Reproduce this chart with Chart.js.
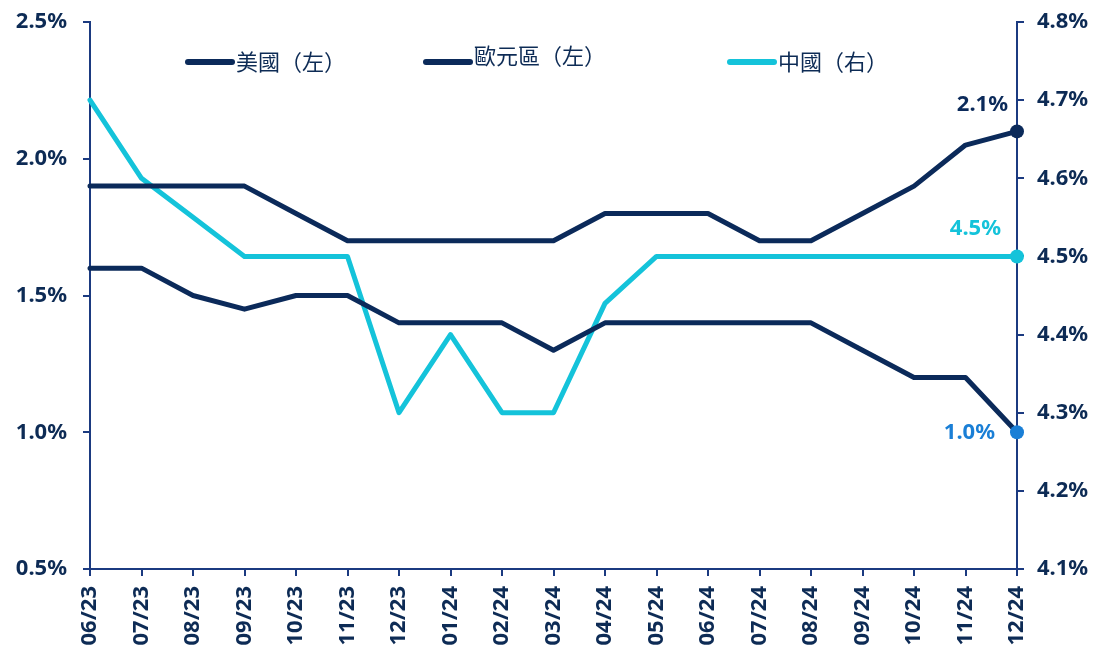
<!DOCTYPE html>
<html>
<head>
<meta charset="utf-8">
<script src="https://cdn.jsdelivr.net/npm/chart.js@4"></script>
<style>
  html, body { margin: 0; padding: 0; background: #fff; }
  #wrap { position: relative; width: 1099px; height: 649px; }
  .leg { position: absolute; top: 44px; display: flex; align-items: center;
         font-family: "Noto Sans CJK TC", "Noto Sans", sans-serif; font-size: 22px; color: #0d2b55; white-space: nowrap; }
  .leg span.sw { display: inline-block; width: 50px; height: 6px; border-radius: 3px; margin-right: 1px; margin-top: 4px; }
</style>
</head>
<body>
<div id="wrap">
  <canvas id="chart" width="1099" height="649"></canvas>
  <div class="leg" style="left:185px"><span class="sw" style="background:#0b2a5a"></span>美國（左）</div>
  <div class="leg" style="left:423px;top:38px"><span class="sw" style="background:#0b2a5a;margin-top:16px"></span>歐元區（左）</div>
  <div class="leg" style="left:727px"><span class="sw" style="background:#14c3da"></span>中國（右）</div>
</div>
<script>
  // months
  var labels = ['06/23','07/23','08/23','09/23','10/23','11/23','12/23','01/24','02/24','03/24',
                '04/24','05/24','06/24','07/24','08/24','09/24','10/24','11/24','12/24'];

  // left axis (%)
  var usData    = [1.9,1.9,1.9,1.9,1.8,1.7,1.7,1.7,1.7,1.7,1.8,1.8,1.8,1.7,1.7,1.8,1.9,2.05,2.1];
  var euroData  = [1.6,1.6,1.5,1.45,1.5,1.5,1.4,1.4,1.4,1.3,1.4,1.4,1.4,1.4,1.4,1.3,1.2,1.2,1.0];
  // right axis (%)
  var chinaData = [4.7,4.6,4.55,4.5,4.5,4.5,4.3,4.4,4.3,4.3,4.44,4.5,4.5,4.5,4.5,4.5,4.5,4.5,4.5];

  var navy = '#0b2a5a';
  var cyan = '#14c3da';
  var blue = '#1a7fd6';
  var axisCol = '#1b3a80';
  var textCol = '#0d2b55';

  function lastOnly(arr, r){
    return arr.map(function(v,i){ return i == arr.length-1 ? r : 0; });
  }

  var tickFont = { family: '"Noto Sans", sans-serif', size: 22, weight: 'bold' };

  // end-of-line value labels
  var endLabels = {
    id: 'endLabels',
    afterDatasetsDraw: function(chart){
      var ctx = chart.ctx;
      chart.data.datasets.forEach(function(ds, i){
        if(!ds.endLabel) return;
        var meta = chart.getDatasetMeta(i);
        var pt = meta.data[meta.data.length-1];
        ctx.save();
        ctx.font = 'bold 22px "Noto Sans", sans-serif';
        ctx.fillStyle = ds.endLabel.color;
        ctx.textAlign = 'right';
        ctx.textBaseline = 'middle';
        ctx.fillText(ds.endLabel.text, pt.x + ds.endLabel.dx, pt.y + ds.endLabel.dy);
        ctx.restore();
      });
    }
  };

  var ctx = document.getElementById('chart').getContext('2d');
  var chart = new Chart(ctx, {
    type: 'line',
    data: {
      labels: labels,
      datasets: [
        {
          label: '美國（左）', data: usData, yAxisID: 'y',
          borderColor: navy, backgroundColor: navy, borderWidth: 5,
          pointRadius: lastOnly(usData, 7), pointBackgroundColor: navy, pointBorderWidth: 0,
          endLabel: { text: '2.1%', color: navy, dx: -9, dy: -27 }
        },
        {
          label: '歐元區（左）', data: euroData, yAxisID: 'y',
          borderColor: navy, backgroundColor: blue, borderWidth: 5,
          pointRadius: lastOnly(euroData, 7), pointBackgroundColor: blue, pointBorderWidth: 0,
          endLabel: { text: '1.0%', color: blue, dx: -22, dy: 0 }
        },
        {
          label: '中國（右）', data: chinaData, yAxisID: 'y1',
          borderColor: cyan, backgroundColor: cyan, borderWidth: 5,
          pointRadius: lastOnly(chinaData, 7), pointBackgroundColor: cyan, pointBorderWidth: 0,
          endLabel: { text: '4.5%', color: cyan, dx: -16, dy: -28 }
        }
      ]
    },
    options: {
      responsive: false,
      animation: false,
      layout: { padding: { top: 22, left: 0, right: 0, bottom: 0 } },
      elements: { line: { tension: 0, borderJoinStyle: 'round', borderCapStyle: 'round' } },
      plugins: { legend: { display: false }, tooltip: { enabled: false } },
      scales: {
        x: {
          offset: false,
          grid: { drawOnChartArea: false, drawTicks: true, tickLength: 7, color: axisCol, lineWidth: 2 },
          border: { color: axisCol, width: 2 },
          ticks: { color: textCol, font: tickFont, minRotation: 90, maxRotation: 90, autoSkip: false, padding: 10 },
          afterFit: function(s){ s.height = 80; }
        },
        y: {
          position: 'left', min: 0.5, max: 2.5,
          grid: { drawOnChartArea: false, drawTicks: true, tickLength: 7, color: axisCol, lineWidth: 2 },
          border: { color: axisCol, width: 2 },
          ticks: { stepSize: 0.5, color: textCol, font: tickFont, padding: 16,
                   callback: function(v){ return v.toFixed(1) + '%'; } },
          afterFit: function(s){ s.width = 90; s.paddingTop = 0; s.paddingBottom = 0; }
        },
        y1: {
          position: 'right', min: 4.1, max: 4.8,
          grid: { drawOnChartArea: false, drawTicks: true, tickLength: 7, color: axisCol, lineWidth: 2 },
          border: { color: axisCol, width: 2 },
          ticks: { stepSize: 0.1, color: textCol, font: tickFont, padding: 13,
                   callback: function(v){ return v.toFixed(1) + '%'; } },
          afterFit: function(s){ s.width = 82; s.paddingTop = 0; s.paddingBottom = 0; }
        }
      }
    },
    plugins: [endLabels]
  });
</script>
</body>
</html>
